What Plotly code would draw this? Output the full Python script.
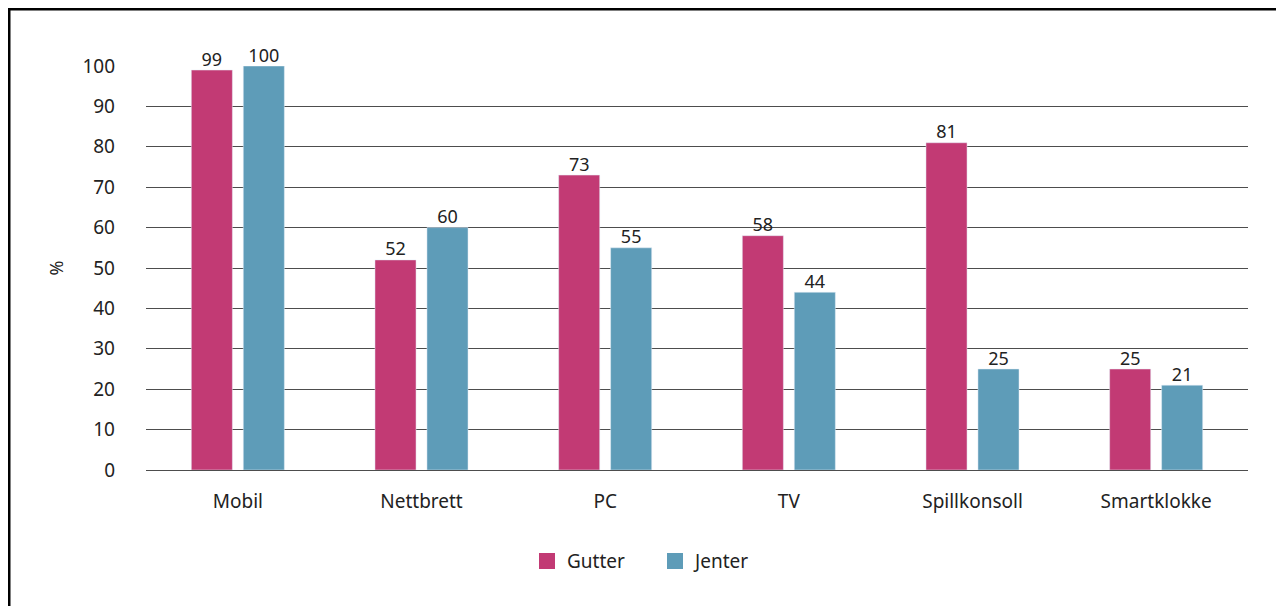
import plotly.graph_objects as go

categories = ["Mobil", "Nettbrett", "PC", "TV", "Spillkonsoll", "Smartklokke"]
gutter = [99, 52, 73, 58, 81, 25]
jenter = [100, 60, 55, 44, 25, 21]
y_ticks = list(range(0, 101, 10))

FONT = "Noto Sans"
C_G = "#C23A74"
C_J = "#5E9CB8"
fig = go.Figure()
for name, vals, col in [("Gutter", gutter, C_G), ("Jenter", jenter, C_J)]:
    fig.add_trace(go.Bar(name=name, x=categories, y=vals, marker_color=col,
                         showlegend=False, hoverinfo="x+y"))
for name, vals, col in [("Gutter", gutter, C_G), ("Jenter", jenter, C_J)]:
    fig.add_trace(go.Scatter(name=name, x=categories, y=vals, mode="text",
                             text=[str(v) for v in vals], textposition="top center",
                             cliponaxis=False, showlegend=False, hoverinfo="skip",
                             textfont=dict(size=18, color="#222", family=FONT)))
# legend entries with larger square symbols (on a hidden overlay axis so they don't join the grouping)
for name, col in [("Gutter", C_G), ("Jenter", C_J)]:
    fig.add_trace(go.Scatter(name=name, x=[None], y=[None], mode="markers", xaxis="x2", yaxis="y2",
                             marker=dict(symbol="square", size=16, color=col), showlegend=True))

fig.update_layout(
    width=1276, height=598,
    margin=dict(l=138, r=36, t=58, b=136),
    paper_bgcolor="white", plot_bgcolor="white",
    barmode="group", bargap=0.434, bargroupgap=0.21,
    scattermode="group", scattergap=0.434,
    font=dict(family=FONT, size=19, color="#222"),
    showlegend=True,
    legend=dict(orientation="h", xref="container", yref="container", x=519 / 1276, xanchor="left",
                y=0.075, yanchor="middle", font=dict(size=19, color="#222"),
                entrywidth=83, entrywidthmode="pixels", tracegroupgap=0),
    xaxis=dict(showgrid=False, showline=False, ticks="", ticklabelstandoff=18,
               tickfont=dict(size=19, color="#222")),
    yaxis=dict(range=[0, 100], tickvals=y_ticks, showgrid=True, gridcolor="#4d4d4d", gridwidth=1,
               zeroline=True, zerolinecolor="#4d4d4d", zerolinewidth=1,
               showline=False, ticks="", ticklabelstandoff=30,
               tickfont=dict(size=19, color="#222"),
               title=dict(text="%", standoff=14, font=dict(size=18, color="#222"))),
    xaxis2=dict(overlaying="x", visible=False),
    yaxis2=dict(overlaying="y", visible=False),
    shapes=[dict(type="rect", xref="paper", yref="paper",
                 x0=-0.12432, x1=1.1, y0=-0.40, y1=1.1411,
                 line=dict(color="black", width=3), fillcolor="rgba(0,0,0,0)", layer="below")],
)
fig.write_html("out.html")
